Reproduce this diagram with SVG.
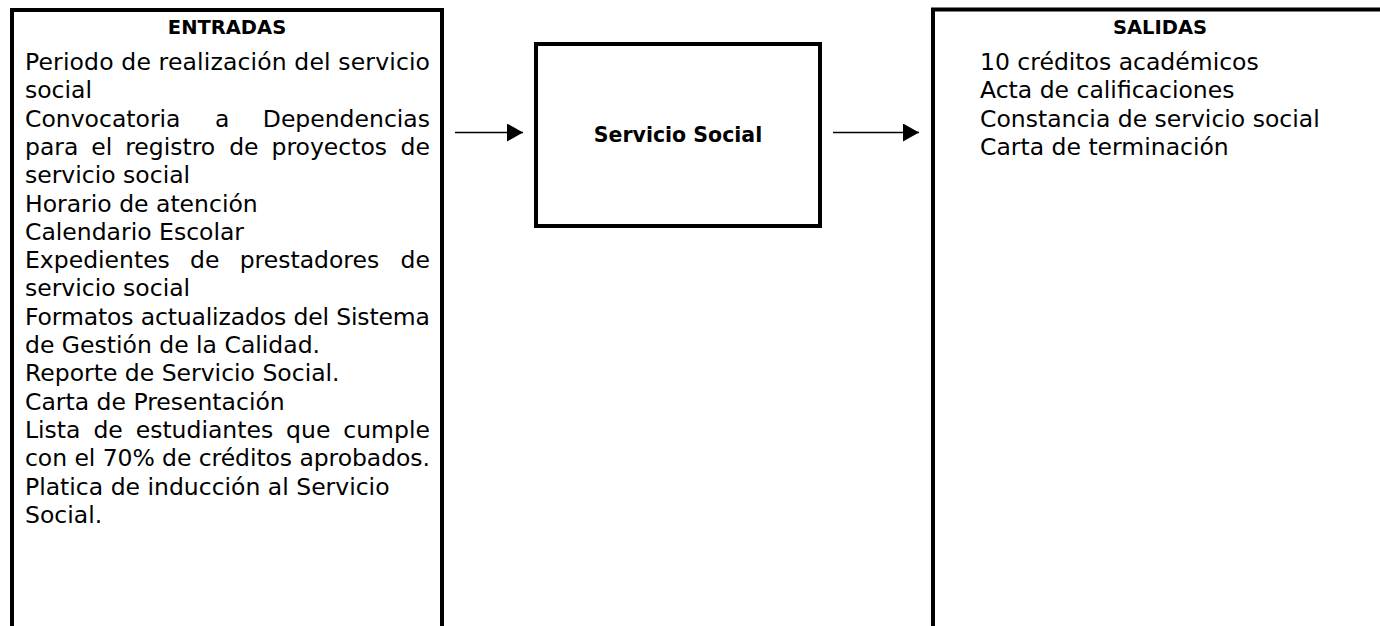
<svg xmlns="http://www.w3.org/2000/svg" width="1380" height="626" viewBox="0 0 1380 626">
  <style>
    .box { fill: #ffffff; stroke: #000000; stroke-width: 4; }
    .conn { stroke: #000000; stroke-width: 1.6; fill: none; }
    .txt { font-family: "DejaVu Sans", "Liberation Sans", sans-serif; font-size: 23.5px; fill: #000000; }
    .head { font-family: "DejaVu Sans", "Liberation Sans", sans-serif; font-size: 19.5px; font-weight: bold; fill: #000000; text-anchor: middle; }
    .title { font-family: "DejaVu Sans", "Liberation Sans", sans-serif; font-size: 20.5px; font-weight: bold; fill: #000000; text-anchor: middle; }
  </style>
  <defs>
    <marker id="arrow" markerUnits="userSpaceOnUse" markerWidth="16" markerHeight="18" refX="16" refY="9" orient="auto">
      <polygon points="0,0 16,9 0,18" fill="#000000"/>
    </marker>
  </defs>
  <rect x="0" y="0" width="1380" height="626" fill="#ffffff"/>

  <g id="entradas">
    <rect class="box" x="12" y="10" width="430" height="700"/>
    <text class="head" x="227" y="34">ENTRADAS</text>
    <text class="txt" x="25" y="70" textLength="405" lengthAdjust="spacing">Periodo de realización del servicio</text>
    <text class="txt" x="25" y="98.3">social</text>
    <text class="txt" y="126.6"><tspan x="25">Convocatoria</tspan><tspan x="215">a</tspan><tspan x="262.8">Dependencias</tspan></text>
    <text class="txt" y="154.9"><tspan x="25">para</tspan><tspan x="91.3">el</tspan><tspan x="125.2">registro</tspan><tspan x="229.2">de</tspan><tspan x="271.5">proyectos</tspan><tspan x="400.5">de</tspan></text>
    <text class="txt" x="25" y="183.2">servicio social</text>
    <text class="txt" x="25" y="211.5">Horario de atención</text>
    <text class="txt" x="25" y="239.8">Calendario Escolar</text>
    <text class="txt" y="268.1"><tspan x="25">Expedientes</tspan><tspan x="190.1">de</tspan><tspan x="239.7">prestadores</tspan><tspan x="400.5">de</tspan></text>
    <text class="txt" x="25" y="296.4">servicio social</text>
    <text class="txt" x="25" y="324.7" textLength="405" lengthAdjust="spacing">Formatos actualizados del Sistema</text>
    <text class="txt" x="25" y="353">de Gestión de la Calidad.</text>
    <text class="txt" x="25" y="381.3">Reporte de Servicio Social.</text>
    <text class="txt" x="25" y="409.6">Carta de Presentación</text>
    <text class="txt" y="437.9"><tspan x="25">Lista</tspan><tspan x="93.4">de</tspan><tspan x="135.7">estudiantes</tspan><tspan x="286.1">que</tspan><tspan x="343.3">cumple</tspan></text>
    <text class="txt" x="25" y="466.2" textLength="405" lengthAdjust="spacing">con el 70% de créditos aprobados.</text>
    <text class="txt" x="25" y="494.5">Platica de inducción al Servicio</text>
    <text class="txt" x="25" y="522.8">Social.</text>
  </g>

  <g id="servicio-social">
    <rect class="box" x="536" y="44" width="284" height="182"/>
    <text class="title" x="678" y="142">Servicio Social</text>
  </g>

  <g id="salidas">
    <rect class="box" x="933" y="9.5" width="454" height="700"/>
    <text class="head" x="1160" y="34">SALIDAS</text>
    <text class="txt" x="980" y="70">10 créditos académicos</text>
    <text class="txt" x="980" y="98.3">Acta de calificaciones</text>
    <text class="txt" x="980" y="126.6">Constancia de servicio social</text>
    <text class="txt" x="980" y="154.9">Carta de terminación</text>
  </g>

  <g id="connectors">
    <line class="conn" x1="455" y1="132.5" x2="523" y2="132.5" marker-end="url(#arrow)"/>
    <line class="conn" x1="833" y1="132.5" x2="919" y2="132.5" marker-end="url(#arrow)"/>
  </g>
</svg>
